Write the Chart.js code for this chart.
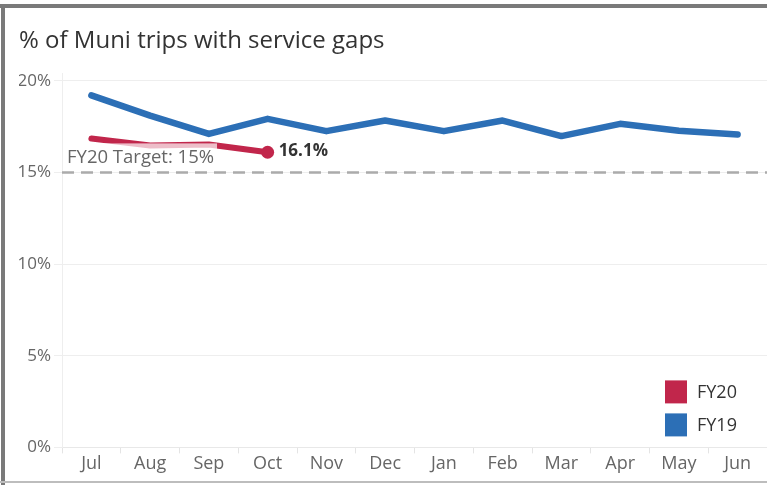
<!DOCTYPE html>
<html>
<head>
<meta charset="utf-8">
<script src="https://cdn.jsdelivr.net/npm/chart.js@4.4.1/dist/chart.umd.min.js"></script>
<style>
  html, body { margin: 0; padding: 0; background: #fff; }
  #wrap { width: 767px; height: 485px; position: relative; }
</style>
</head>
<body>
<div id="wrap"><canvas id="gaps-chart" width="767" height="485"></canvas></div>
<script>
const months = ['Jul', 'Aug', 'Sep', 'Oct', 'Nov', 'Dec', 'Jan', 'Feb', 'Mar', 'Apr', 'May', 'Jun'];
const fy20 = [16.85, 16.47, 16.52, 16.1];
const fy19 = [19.2, 18.1, 17.1, 17.92, 17.25, 17.83, 17.25, 17.83, 16.98, 17.65, 17.27, 17.07];
const target = 15;
const targetLabel = 'FY20 Target: 15%';
const yTicks = [0, 5, 10, 15, 20];

const FONT = '"Open Sans", "Noto Sans", sans-serif';
const RED = '#c1264b';
const BLUE = '#2c6fb6';

// dashed target line + its label, last FY20 value label, legend and frame
const extras = {
    id: 'extras',
    afterDatasetsDraw(chart) {
        const { ctx, chartArea } = chart;
        const y = chart.scales.y;
        const ty = y.getPixelForValue(target);

        ctx.save();
        ctx.strokeStyle = '#ababab';
        ctx.lineWidth = 2.5;
        ctx.setLineDash([12, 7]);
        ctx.beginPath();
        ctx.moveTo(chartArea.left, ty);
        ctx.lineTo(chartArea.right, ty);
        ctx.stroke();
        ctx.setLineDash([]);

        ctx.font = '18.5px ' + FONT;
        const w = ctx.measureText(targetLabel).width;
        ctx.fillStyle = 'rgba(255,255,255,0.7)';
        ctx.fillRect(chartArea.left + 4, ty - 29, w + 4, 24);
        ctx.fillStyle = '#666';
        ctx.textBaseline = 'alphabetic';
        ctx.fillText(targetLabel, chartArea.left + 5, ty - 9);

        // value label on the last FY20 point
        const meta = chart.getDatasetMeta(0);
        const last = meta.data[meta.data.length - 1];
        ctx.font = 'bold 17px ' + FONT;
        ctx.fillStyle = '#333';
        ctx.textBaseline = 'middle';
        ctx.fillText(fy20[fy20.length - 1].toFixed(1) + '%', last.x + 11, last.y - 1);

        // legend in the lower right corner
        ctx.font = '18px ' + FONT;
        chart.data.datasets.forEach((ds, i) => {
            const lx = chartArea.right - 102;
            const ly = chartArea.bottom - 67 + i * 33;
            ctx.fillStyle = ds.borderColor;
            ctx.fillRect(lx, ly, 22, 23);
            ctx.fillStyle = '#333';
            ctx.fillText(ds.label, lx + 32, ly + 12);
        });

        // frame
        ctx.fillStyle = '#7a7a7a';
        ctx.fillRect(0, 4, chart.width, 4);
        ctx.fillRect(1, 4, 4, chart.height - 4);
        ctx.fillStyle = '#bdbdbd';
        ctx.fillRect(0, chart.height - 4, chart.width, 2);
        ctx.restore();
    }
};

const gapsChart = new Chart(document.getElementById('gaps-chart').getContext('2d'), {
    type: 'line',
    data: {
        labels: months,
        datasets: [{
            label: 'FY20',
            data: fy20,
            borderColor: RED,
            backgroundColor: RED,
            borderWidth: 6,
            borderCapStyle: 'round',
            borderJoinStyle: 'round',
            pointRadius: fy20.map((_, i) => i === fy20.length - 1 ? 6.5 : 0),
            pointBorderWidth: 0,
            pointHoverRadius: 0,
            tension: 0,
            fill: false
        }, {
            label: 'FY19',
            data: fy19,
            borderColor: BLUE,
            backgroundColor: BLUE,
            borderWidth: 6.5,
            borderCapStyle: 'round',
            borderJoinStyle: 'round',
            pointRadius: 0,
            tension: 0,
            fill: false
        }]
    },
    options: {
        responsive: false,
        animation: false,
        layout: { autoPadding: false, padding: { left: 19, right: 0, top: 0, bottom: 10 } },
        plugins: {
            legend: { display: false },
            tooltip: { enabled: false },
            title: {
                display: true,
                text: '% of Muni trips with service gaps',
                align: 'start',
                color: '#333',
                font: { family: FONT, size: 24, weight: 'normal' },
                padding: { top: 26.6, bottom: 18 }
            }
        },
        scales: {
            x: {
                offset: true,
                afterFit: s => { s.paddingLeft = 0; s.paddingRight = 0; },
                grid: {
                    offset: true,
                    drawOnChartArea: false,
                    drawTicks: true,
                    tickLength: 6,
                    color: '#e4e4e4'
                },
                border: { color: '#e8e8e8' },
                ticks: {
                    color: '#666',
                    padding: 0,
                    maxRotation: 0,
                    font: { family: FONT, size: 18 }
                }
            },
            y: {
                min: 0,
                max: 20.4,
                afterBuildTicks: scale => {
                    scale.ticks = yTicks.map(v => ({ value: v }));
                },
                afterFit: s => { s.width = 43; },
                grid: {
                    color: '#eeeeee',
                    tickLength: 8
                },
                border: { color: '#eeeeee' },
                ticks: {
                    color: '#666',
                    padding: 3,
                    font: { family: FONT, size: 17 },
                    callback: v => v + '%'
                }
            }
        }
    },
    plugins: [extras]
});
</script>
</body>
</html>
